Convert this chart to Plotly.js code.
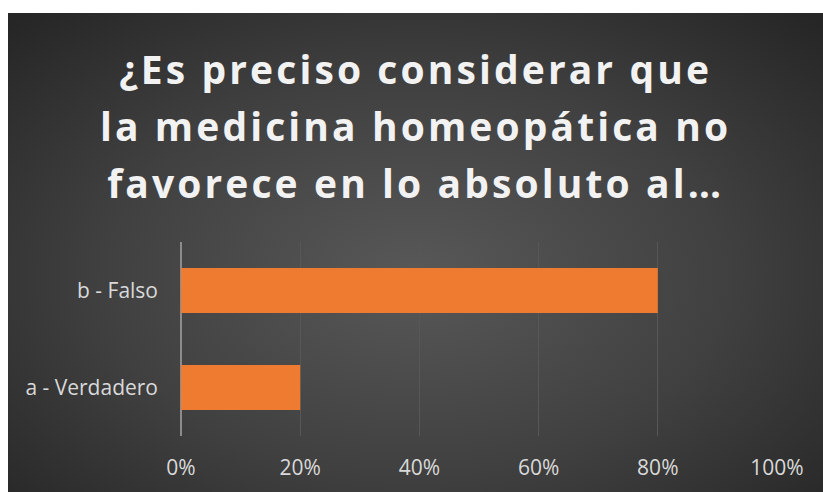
<!DOCTYPE html>
<html>
<head>
<meta charset="utf-8">
<script src="https://cdn.plot.ly/plotly-3.0.1.min.js"></script>
<style>
  html, body { margin: 0; padding: 0; background: #ffffff; }
  #wrap { position: relative; width: 823px; height: 492px; overflow: hidden; }
  #bg { position: absolute; left: 8px; top: 13px; width: 815px; height: 479px;
        background: radial-gradient(ellipse 70% 75% at 50% 55%, #585858 0%, #404040 55%, #262626 100%); }
  #chart { position: absolute; left: 0; top: 0; width: 823px; height: 492px; }
</style>
</head>
<body>
<div id="wrap"><div id="bg"></div><div id="chart"></div></div>
<script>
const categories = ['a - Verdadero', 'b - Falso'];
const values = [0.20, 0.80];
const xTickVals = [0, 0.2, 0.4, 0.6, 0.8, 1.0];
const xTickText = ['0%', '20%', '40%', '60%', '80%', '100%'];
const titleLines = ['¿Es preciso considerar que', 'la medicina homeopática no', 'favorece en lo absoluto al…'];

const span = s => '<span style="font-size:39px;letter-spacing:3.1px">' + s + '</span>';

const trace = {
  type: 'bar',
  orientation: 'h',
  x: values,
  y: categories,
  marker: { color: '#ee7b30', line: { width: 0 } },
  hoverinfo: 'none'
};

const layout = {
  width: 823,
  height: 492,
  paper_bgcolor: 'rgba(0,0,0,0)',
  plot_bgcolor: 'rgba(0,0,0,0)',
  margin: { l: 181, r: 46, t: 242, b: 56 },
  showlegend: false,
  bargap: 0.535,
  title: {
    text: titleLines.map(span).join('<br>'),
    font: { family: 'Open Sans, sans-serif', size: 44, color: '#f2f2f2', weight: 700 },
    x: 0.505, xanchor: 'center',
    y: 0.83, yanchor: 'top', yref: 'container'
  },
  xaxis: {
    range: [0, 1],
    tickvals: xTickVals,
    ticktext: xTickText,
    showgrid: true,
    gridcolor: '#575757',
    gridwidth: 1.3,
    zeroline: true,
    zerolinecolor: '#8c8c8c',
    zerolinewidth: 1.5,
    showline: false,
    ticks: '',
    ticklabelstandoff: 17,
    tickfont: { family: 'Open Sans, sans-serif', size: 21, color: '#d9d9d9' },
    fixedrange: true
  },
  yaxis: {
    type: 'category',
    categoryorder: 'array',
    categoryarray: categories,
    showgrid: false,
    zeroline: false,
    showline: false,
    ticks: '',
    ticklabelstandoff: 22,
    tickfont: { family: 'Open Sans, sans-serif', size: 21, color: '#d9d9d9' },
    fixedrange: true
  }
};

Plotly.newPlot('chart', [trace], layout, { displayModeBar: false, staticPlot: true });
</script>
</body>
</html>
